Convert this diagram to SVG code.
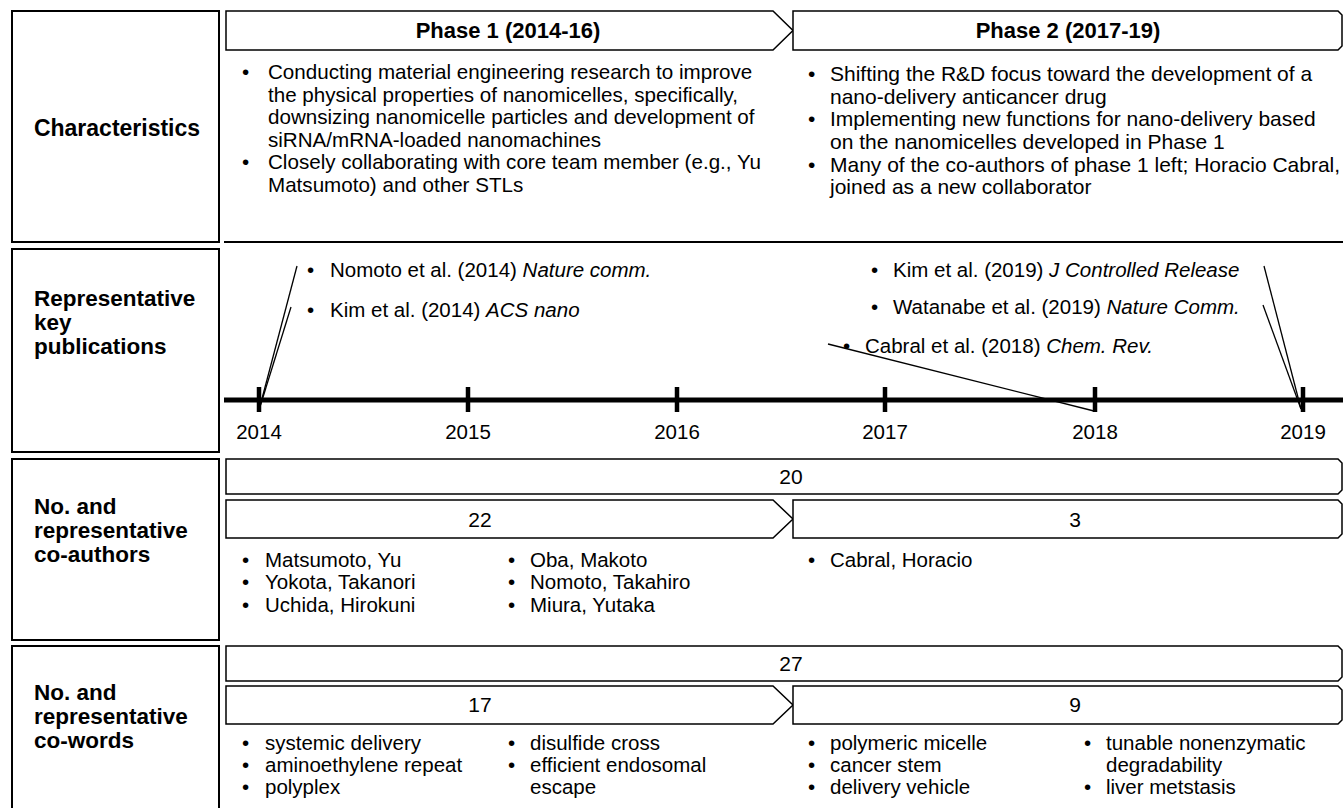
<svg xmlns="http://www.w3.org/2000/svg" width="1343" height="808" viewBox="0 0 1343 808">
<style>
.box{fill:#fff;stroke:#000;stroke-width:2}
.bar{fill:#fff;stroke:#000;stroke-width:1.5}
.lbl{font-family:"Liberation Sans",Arial,sans-serif;font-size:22.5px;font-weight:bold;fill:#000}
.hd{font-family:"Liberation Sans",Arial,sans-serif;font-size:22px;font-weight:bold;fill:#000;text-anchor:middle}
.t{font-family:"Liberation Sans",Arial,sans-serif;font-size:21px;fill:#000}
.t1{font-family:"Liberation Sans",Arial,sans-serif;font-size:20.6px;fill:#000}
.s{font-family:"Liberation Sans",Arial,sans-serif;font-size:20.5px;fill:#000}
.n{font-family:"Liberation Sans",Arial,sans-serif;font-size:21px;fill:#000;text-anchor:middle}
.i{font-style:italic}
.lead{stroke:#000;stroke-width:1.3;fill:none}
.axis{stroke:#000;stroke-width:5;fill:none}
.tick{stroke:#000;stroke-width:4.5}
</style>
<rect width="1343" height="808" fill="#fff"/>

<!-- Row 1: Characteristics -->
<g id="row1-label">
<rect class="box" x="12" y="11" width="207" height="231"/>
<text class="lbl" x="117" y="136" text-anchor="middle" style="font-size:23px">Characteristics</text>
</g>
<g id="phase1-header">
<path class="bar" d="M226,11 H773 L793,30.5 L773,50 H226 Z"/>
<text class="hd" x="508" y="38">Phase 1 (2014-16)</text>
</g>
<g id="phase2-header">
<path class="bar" d="M793,11 H1338 L1342,15 V46 L1338,50 H793 Z"/>
<text class="hd" x="1068" y="38">Phase 2 (2017-19)</text>
</g>
<g id="phase1-text" class="t1">
<text x="242" y="79">•</text><text x="268" y="79">Conducting material engineering research to improve</text>
<text x="268" y="101.5">the physical properties of nanomicelles, specifically,</text>
<text x="268" y="124">downsizing nanomicelle particles and development of</text>
<text x="268" y="146.5">siRNA/mRNA-loaded nanomachines</text>
<text x="242" y="169">•</text><text x="268" y="169">Closely collaborating with core team member (e.g., Yu</text>
<text x="268" y="191.5">Matsumoto) and other STLs</text>
</g>
<g id="phase2-text" class="t">
<text x="808" y="81">•</text><text x="830" y="81">Shifting the R&amp;D focus toward the development of a</text>
<text x="830" y="103.5">nano-delivery anticancer drug</text>
<text x="808" y="126">•</text><text x="830" y="126">Implementing new functions for nano-delivery based</text>
<text x="830" y="148.5">on the nanomicelles developed in Phase 1</text>
<text x="808" y="171.5">•</text><text x="830" y="171.5">Many of the co-authors of phase 1 left; Horacio Cabral,</text>
<text x="830" y="194">joined as a new collaborator</text>
</g>
<line x1="224" y1="242" x2="1343" y2="242" stroke="#000" stroke-width="2"/>

<!-- Row 2: publications -->
<g id="row2-label">
<rect class="box" x="12" y="249" width="207" height="203"/>
<text class="lbl" x="34" y="306"><tspan x="34" y="306">Representative</tspan><tspan x="34" y="330">key</tspan><tspan x="34" y="354">publications</tspan></text>
</g>
<g id="timeline">
<line class="axis" x1="224" y1="400" x2="1343" y2="400"/>
<line class="tick" x1="259" y1="387" x2="259" y2="412"/>
<line class="tick" x1="468" y1="387" x2="468" y2="412"/>
<line class="tick" x1="677" y1="387" x2="677" y2="412"/>
<line class="tick" x1="885" y1="387" x2="885" y2="412"/>
<line class="tick" x1="1095" y1="387" x2="1095" y2="412"/>
<line class="tick" x1="1303" y1="387" x2="1303" y2="412"/>
<g class="s" text-anchor="middle">
<text x="259" y="439">2014</text>
<text x="468" y="439">2015</text>
<text x="677" y="439">2016</text>
<text x="885" y="439">2017</text>
<text x="1095" y="439">2018</text>
<text x="1303" y="439">2019</text>
</g>
</g>
<g id="publications" class="s">
<text x="307" y="277">•</text><text x="330" y="277">Nomoto et al. (2014) <tspan class="i">Nature comm.</tspan></text>
<text x="307" y="317">•</text><text x="330" y="317">Kim et al. (2014) <tspan class="i">ACS nano</tspan></text>
<text x="871" y="277">•</text><text x="893" y="277">Kim et al. (2019) <tspan class="i">J Controlled Release</tspan></text>
<text x="871" y="314">•</text><text x="893" y="314">Watanabe et al. (2019) <tspan class="i">Nature Comm.</tspan></text>
<text x="843" y="353">•</text><text x="865" y="353">Cabral et al. (2018) <tspan class="i">Chem. Rev.</tspan></text>
</g>
<g id="connectors">
<line class="lead" x1="297" y1="266" x2="259" y2="410"/>
<line class="lead" x1="291" y1="307" x2="259" y2="410"/>
<line class="lead" x1="828" y1="344" x2="1094" y2="411"/>
<line class="lead" x1="1264" y1="266" x2="1301" y2="409"/>
<line class="lead" x1="1263" y1="305" x2="1301" y2="409"/>
</g>

<!-- Row 3: co-authors -->
<g id="row3-label">
<rect class="box" x="12" y="459" width="207" height="181"/>
<text class="lbl" x="34" y="514"><tspan x="34" y="514">No. and</tspan><tspan x="34" y="538">representative</tspan><tspan x="34" y="562">co-authors</tspan></text>
</g>
<g id="coauthors-total">
<path class="bar" d="M226,459 H1338 L1342,463 V490 L1338,494 H226 Z"/>
<text class="n" x="791" y="484">20</text>
</g>
<g id="coauthors-phase1">
<path class="bar" d="M226,500 H773 L793,519 L773,538 H226 Z"/>
<text class="n" x="480" y="527">22</text>
</g>
<g id="coauthors-phase2">
<path class="bar" d="M793,500 H1338 L1342,504 V534 L1338,538 H793 Z"/>
<text class="n" x="1075" y="527">3</text>
</g>
<g id="coauthors-list" class="s">
<text x="242" y="567">•</text><text x="265" y="567">Matsumoto, Yu</text>
<text x="242" y="589">•</text><text x="265" y="589">Yokota, Takanori</text>
<text x="242" y="612">•</text><text x="265" y="612">Uchida, Hirokuni</text>
<text x="508" y="567">•</text><text x="530" y="567">Oba, Makoto</text>
<text x="508" y="589">•</text><text x="530" y="589">Nomoto, Takahiro</text>
<text x="508" y="612">•</text><text x="530" y="612">Miura, Yutaka</text>
<text x="808" y="567">•</text><text x="830" y="567">Cabral, Horacio</text>
</g>

<!-- Row 4: co-words -->
<g id="row4-label">
<rect class="box" x="12" y="646" width="207" height="170"/>
<text class="lbl" x="34" y="700"><tspan x="34" y="700">No. and</tspan><tspan x="34" y="724">representative</tspan><tspan x="34" y="748">co-words</tspan></text>
</g>
<g id="cowords-total">
<path class="bar" d="M226,646 H1338 L1342,650 V677 L1338,681 H226 Z"/>
<text class="n" x="791" y="671">27</text>
</g>
<g id="cowords-phase1">
<path class="bar" d="M226,686 H773 L793,705 L773,724 H226 Z"/>
<text class="n" x="480" y="712">17</text>
</g>
<g id="cowords-phase2">
<path class="bar" d="M793,686 H1338 L1342,690 V720 L1338,724 H793 Z"/>
<text class="n" x="1075" y="712">9</text>
</g>
<g id="cowords-list" class="s">
<text x="242" y="750">•</text><text x="265" y="750">systemic delivery</text>
<text x="242" y="772">•</text><text x="265" y="772">aminoethylene repeat</text>
<text x="242" y="794">•</text><text x="265" y="794">polyplex</text>
<text x="508" y="750">•</text><text x="530" y="750">disulfide cross</text>
<text x="508" y="772">•</text><text x="530" y="772">efficient endosomal</text>
<text x="530" y="794">escape</text>
<text x="808" y="750">•</text><text x="830" y="750">polymeric micelle</text>
<text x="808" y="772">•</text><text x="830" y="772">cancer stem</text>
<text x="808" y="794">•</text><text x="830" y="794">delivery vehicle</text>
<text x="1084" y="750">•</text><text x="1106" y="750">tunable nonenzymatic</text>
<text x="1106" y="772">degradability</text>
<text x="1084" y="794">•</text><text x="1106" y="794">liver metstasis</text>
</g>
</svg>
